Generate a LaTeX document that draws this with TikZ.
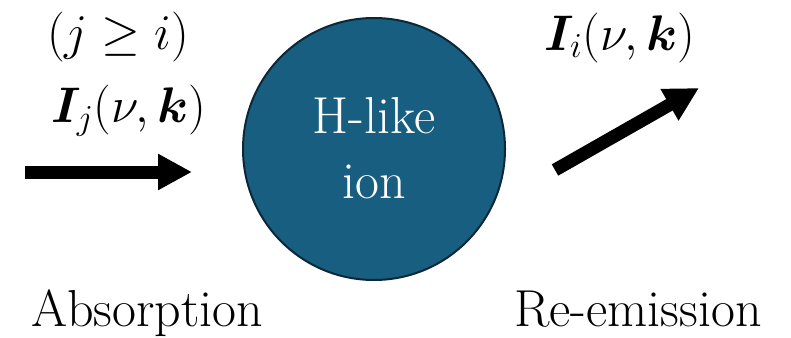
\RequirePackage{fix-cm}
\documentclass[tikz,border=0pt]{standalone}
\usepackage{amsmath,bm}
\usetikzlibrary{arrows.meta}
\definecolor{ionfill}{RGB}{24,94,128}
\definecolor{iondraw}{RGB}{10,40,56}
\tikzset{
  lbl/.style={anchor=base, inner sep=0pt, font=\fontsize{52}{60}\selectfont},
  mathlbl/.style={anchor=base, inner sep=0pt, font=\fontsize{50}{56}\selectfont},
  beam/.style={line width=13pt, -{Triangle[length=34pt,width=34pt]}},
  ion/.style={circle, fill=ionfill, draw=iondraw, line width=2pt,
    minimum size=262pt, inner sep=0pt}
}
\begin{document}
\begin{tikzpicture}[x=1pt,y=-1pt]
  \useasboundingbox (0,0) rectangle (791,337);
  % central ion
  \node[ion] (atom) at (374,149) {};
  \node[lbl, text=white] (hlike) at (374,133) {H-like};
  \node[lbl, text=white] (ionlbl) at (374,198) {ion};
  % incoming radiation
  \node[mathlbl] (cond) at (118,49) {$(j \geq i)$};
  \node[mathlbl] (inI) at (129,122) {$\bm{I}_j(\nu,\bm{k})$};
  \coordinate (inS) at (25,172);
  \coordinate (inE) at (192,172);
  \draw[beam] (inS) -- (inE);
  % re-emitted radiation
  \node[mathlbl] (outI) at (620,50) {$\bm{I}_i(\nu,\bm{k})$};
  \coordinate (outS) at (555,170);
  \coordinate (outE) at (699,88);
  \draw[beam] (outS) -- (outE);
  % process labels
  \node[lbl] (abs) at (147,326) {Absorption};
  \node[lbl] (emi) at (638,326) {Re-emission};
\end{tikzpicture}
\end{document}
